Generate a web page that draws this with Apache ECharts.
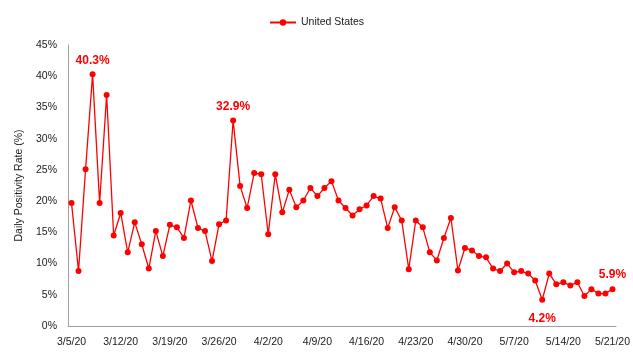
<!DOCTYPE html>
<html>
<head>
<meta charset="utf-8">
<script src="https://cdn.jsdelivr.net/npm/echarts@6/dist/echarts.min.js"></script>
<style>
html,body{margin:0;padding:0;background:#fff;}
#chart{width:633px;height:357px;}
</style>
</head>
<body>
<div id="chart"></div>
<script>
const dates = [
'3/5/20','3/6/20','3/7/20','3/8/20','3/9/20','3/10/20','3/11/20','3/12/20','3/13/20','3/14/20',
'3/15/20','3/16/20','3/17/20','3/18/20','3/19/20','3/20/20','3/21/20','3/22/20','3/23/20','3/24/20',
'3/25/20','3/26/20','3/27/20','3/28/20','3/29/20','3/30/20','3/31/20',
'4/1/20','4/2/20','4/3/20','4/4/20','4/5/20','4/6/20','4/7/20','4/8/20','4/9/20','4/10/20',
'4/11/20','4/12/20','4/13/20','4/14/20','4/15/20','4/16/20','4/17/20','4/18/20','4/19/20','4/20/20',
'4/21/20','4/22/20','4/23/20','4/24/20','4/25/20','4/26/20','4/27/20','4/28/20','4/29/20','4/30/20',
'5/1/20','5/2/20','5/3/20','5/4/20','5/5/20','5/6/20','5/7/20','5/8/20','5/9/20','5/10/20',
'5/11/20','5/12/20','5/13/20','5/14/20','5/15/20','5/16/20','5/17/20','5/18/20','5/19/20','5/20/20','5/21/20'
];
const positivityRate = [
19.7, 8.8, 25.1, 40.3, 19.7, 37.0, 14.5, 18.1, 11.8, 16.6,
13.1, 9.2, 15.2, 11.2, 16.2, 15.8, 14.1, 20.1, 15.7, 15.2,
10.4, 16.3, 16.9, 32.9, 22.4, 18.9, 24.5,
24.3, 14.7, 24.3, 18.2, 21.8, 19.0, 20.1, 22.1, 20.8, 22.1,
23.2, 20.1, 18.9, 17.7, 18.7, 19.3, 20.8, 20.4, 15.7, 19.0,
16.9, 9.1, 16.9, 15.8, 11.8, 10.5, 14.1, 17.3, 8.9, 12.5,
12.1, 11.2, 11.0, 9.2, 8.8, 10.0, 8.6, 8.8, 8.4, 7.3,
4.2, 8.4, 6.7, 7.0, 6.5, 7.0, 4.8, 5.9, 5.2, 5.2, 5.9
];
const yTicks = [0, 5, 10, 15, 20, 25, 30, 35, 40, 45];
const labelAbove = ['3/8/20', '3/28/20', '5/21/20'];
const labelBelow = ['5/11/20'];

const seriesData = positivityRate.map((v, i) => {
  const d = dates[i];
  if (labelAbove.includes(d)) {
    return { value: v, label: { show: true, position: 'top', distance: 5 } };
  }
  if (labelBelow.includes(d)) {
    return { value: v, label: { show: true, position: 'bottom', distance: 10 } };
  }
  return v;
});

const FF = 'Liberation Sans, Arial, sans-serif';
const chart = echarts.init(document.getElementById('chart'), null, { renderer: 'canvas' });
const txt = '#1a1a1a';
chart.setOption({
  animation: false,
  textStyle: { fontFamily: FF },
  legend: {
    top: 12,
    left: 'center',
    itemWidth: 26,
    itemHeight: 8,
    itemGap: 10,
    textStyle: { color: txt, fontSize: 10.5, fontFamily: FF },
    data: ['United States']
  },
  grid: { left: 68, right: 15, top: 45, bottom: 31, containLabel: false },
  xAxis: {
    type: 'category',
    data: dates,
    boundaryGap: true,
    axisLine: { lineStyle: { color: '#a0a0a0', width: 1 } },
    axisTick: { show: false },
    axisLabel: { interval: 6, color: txt, fontSize: 10.5, margin: 11, fontFamily: FF },
    splitLine: { show: false }
  },
  yAxis: {
    type: 'value',
    min: yTicks[0],
    max: yTicks[yTicks.length - 1],
    interval: 5,
    name: 'Daily Positivity Rate (%)',
    nameLocation: 'middle',
    nameGap: 40,
    nameTextStyle: { color: txt, fontSize: 10.5, fontFamily: FF },
    axisLine: { show: true, lineStyle: { color: '#a0a0a0', width: 1 } },
    axisTick: { show: false },
    splitLine: { show: false },
    axisLabel: { formatter: '{value}%', color: txt, fontSize: 10.5, margin: 11, fontFamily: FF }
  },
  series: [{
    name: 'United States',
    type: 'line',
    data: seriesData,
    color: '#ff0000',
    symbol: 'circle',
    symbolSize: 6,
    showAllSymbol: true,
    lineStyle: { color: '#ff0000', width: 1.3 },
    itemStyle: { color: '#ff0000' },
    label: {
      show: false,
      color: '#ff0000',
      fontWeight: 'bold',
      fontSize: 12,
      fontFamily: FF,
      formatter: p => p.value.toFixed(1) + '%'
    }
  }]
});
</script>
</body>
</html>
